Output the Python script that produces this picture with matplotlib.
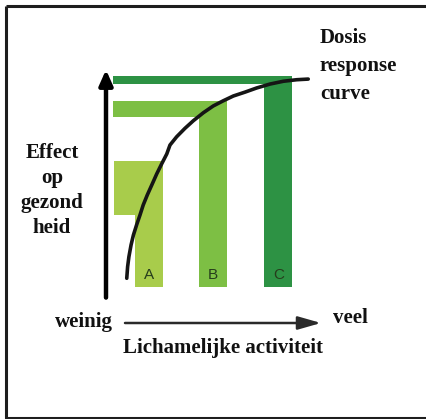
import matplotlib.pyplot as plt
import matplotlib.patches as mpatches

# activity levels A, B, C and their effect on health
groups = ['A', 'B', 'C']
activity = [2.0, 5.0, 8.05]
effect = [5.95, 8.7, 9.86]
band = [2.5, 0.74, 0.37]          # thickness of the horizontal bands
band_start = [0.37, 0.33, 0.33]
colors = ['#a8cc4b', '#7dbf44', '#2d9244']

# dose response curve
curve_x = [0.97, 1.01, 1.07, 1.17, 1.28, 1.43, 1.59, 1.74, 1.93, 2.14,
           2.37, 2.60, 2.84, 2.99, 3.30, 3.69, 4.08, 4.55, 5.01, 5.48,
           5.95, 6.50, 7.04, 7.66, 8.29, 8.91, 9.45]
curve_y = [0.54, 1.07, 1.53, 2.07, 2.53, 3.00, 3.46, 3.92, 4.38, 4.84,
           5.35, 5.81, 6.27, 6.68, 7.06, 7.45, 7.80, 8.17, 8.48, 8.72,
           8.94, 9.12, 9.31, 9.49, 9.62, 9.69, 9.72]

W, H = 427, 419
fig = plt.figure(figsize=(W / 100, H / 100), dpi=100)

# overlay in pixel coordinates for frame and labels
ov = fig.add_axes([0, 0, 1, 1])
ov.set_xlim(0, W)
ov.set_ylim(H, 0)
ov.axis('off')

ov.plot([6, 6, 440], [6, 418, 418], color='#1e1e1e', lw=2.2, solid_capstyle='butt')
ov.plot([6, 440], [6, 6], color='#1e1e1e', lw=2.2, solid_capstyle='butt')

serif = dict(family='Liberation Serif', weight='bold', fontsize=15, color='#111111')
ov.text(320, 38, 'Dosis', ha='left', va='center', **serif)
ov.text(320, 66, 'response', ha='left', va='center', **serif)
ov.text(320, 94, 'curve', ha='left', va='center', **serif)
for i, s in enumerate(['Effect', 'op', 'gezond', 'heid']):
    ov.text(52, 153 + i * 25, s, ha='center', va='center', **serif)
ov.text(84, 322, 'weinig', ha='center', va='center', **serif)
ov.text(350, 318, 'veel', ha='center', va='center', **serif)
ov.text(223, 348, 'Lichamelijke activiteit', ha='center', va='center', **serif)

ov.annotate('', xy=(321, 323), xytext=(125, 323),
            arrowprops=dict(arrowstyle='-|>,head_length=1.4,head_width=0.4',
                            color='#2a2a2a', lw=1.8, shrinkA=0, shrinkB=0))

# inner diagram in data units
ax = fig.add_axes([106 / W, 1 - 290 / H, 214 / W, 217 / H])
ax.set_xlim(0, 10)
ax.set_ylim(0, 10)
ax.axis('off')

width = 1.3
for g, x, e, b, s, c in zip(groups, activity, effect, band, band_start, colors):
    ax.bar(x, e - 0.15, bottom=0.15, width=width, color=c, clip_on=False)
    ax.add_patch(mpatches.Rectangle((s, e - b), x + width / 2 - s, b,
                                    color=c, lw=0))
    ax.text(x, 0.7, g, ha='center', va='center', fontsize=11,
            family='Liberation Sans', color='#263d1c')

ax.plot(curve_x, curve_y, color='#151515', lw=2.6, solid_capstyle='round',
        solid_joinstyle='round', clip_on=False)

ax.annotate('', xy=(0, 10.15), xytext=(0, -0.35),
            arrowprops=dict(arrowstyle='-|>,head_length=0.9,head_width=0.4',
                            color='black', lw=3.2, shrinkA=0, shrinkB=0),
            annotation_clip=False)

fig.savefig('out.png', dpi=100)
